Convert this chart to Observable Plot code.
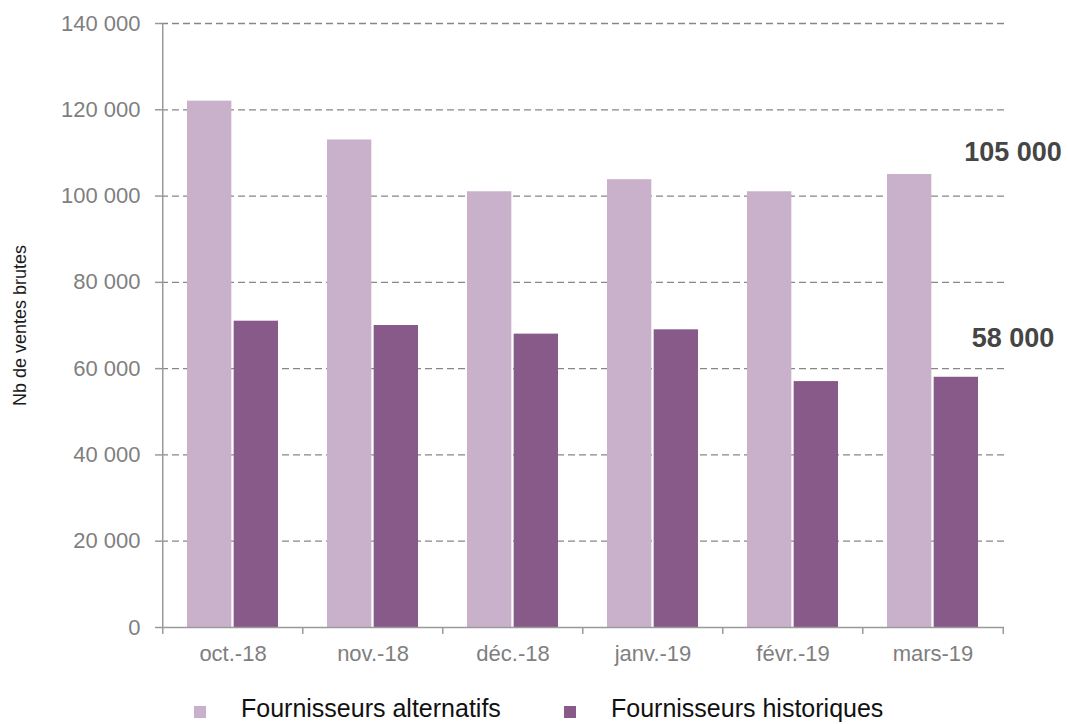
<!DOCTYPE html>
<html>
<head>
<meta charset="utf-8">
<script src="https://cdn.jsdelivr.net/npm/d3@7"></script>
<script src="https://cdn.jsdelivr.net/npm/@observablehq/plot@0.6"></script>
<style>
  body { margin: 0; background: #ffffff; font-family: "Liberation Sans", Arial, sans-serif; }
  #legend { position: relative; height: 44px; }
  .item { position: absolute; top: 14px; display: flex; align-items: center; font-size: 25px; color: #111; line-height: 28px; white-space: nowrap; }
  .sw { width: 12px; height: 12px; margin-top: 7px; }
</style>
</head>
<body>
<div id="chart"></div>
<div id="legend"></div>
<script>
const months = ["oct.-18", "nov.-18", "déc.-18", "janv.-19", "févr.-19", "mars-19"];
const alternatifs = [122000, 113000, 101000, 103800, 101000, 105000];
const historiques = [71000, 70000, 68000, 69000, 57000, 58000];
const seriesNames = ["Fournisseurs alternatifs", "Fournisseurs historiques"];
const seriesColors = ["#c9b1cb", "#885a89"];
const yTicks = [0, 20000, 40000, 60000, 80000, 100000, 120000, 140000];
const yLabel = "Nb de ventes brutes";

const W = 1068, H = 680, mL = 161, mR = 64, mT = 23, mB = 53;
const padInner = 0.35, padOuter = 0.175;
const step = (W - mL - mR) / (months.length - padInner + 2 * padOuter);
const bw = step * (1 - padInner);
const fmt = v => d3.format(",")(v).replace(/,/g, " ");

const data = months.map((m, i) => ({month: m, alt: alternatifs[i], hist: historiques[i]}));
const last = data[data.length - 1];

const chart = Plot.plot({
  width: W, height: H,
  marginLeft: mL, marginRight: mR, marginTop: mT, marginBottom: mB,
  style: {fontFamily: "Liberation Sans, Arial, sans-serif", background: "#ffffff"},
  x: {domain: months, paddingInner: padInner, paddingOuter: padOuter, label: null},
  y: {domain: [0, 140000], label: null},
  marks: [
    Plot.ruleY(yTicks.filter(d => d > 0), {stroke: "#878787", strokeWidth: 1.3, strokeDasharray: "7,4"}),
    Plot.barY(data, {x: "month", y: "alt", fill: seriesColors[0], insetRight: bw / 2 + 1}),
    Plot.barY(data, {x: "month", y: "hist", fill: seriesColors[1], insetLeft: bw / 2 + 1}),
    Plot.ruleY([0], {stroke: "#9a9a9a", strokeWidth: 1.5}),
    Plot.ruleX([months[0]], {y1: 0, y2: 140000, dx: -step / 2, stroke: "#9a9a9a", strokeWidth: 1.5}),
    Plot.axisX({tickSize: 7, tickFormat: () => "", dx: -step / 2, stroke: "#9a9a9a", strokeWidth: 1.5, label: null}),
    Plot.axisX({ticks: [months[months.length - 1]], tickSize: 7, tickFormat: () => "", dx: step / 2, stroke: "#9a9a9a", strokeWidth: 1.5, label: null}),
    Plot.axisX({tickSize: 0, tickPadding: 18, fontSize: 22, color: "#7f7f7f", label: null}),
    Plot.axisY({ticks: yTicks, tickSize: 6, tickPadding: 15, tickFormat: fmt, fontSize: 22, color: "#7f7f7f", stroke: "#9a9a9a", strokeWidth: 1.5, label: null}),
    Plot.text([last], {x: "month", y: "alt", text: d => fmt(d.alt), dx: 80, dy: -22, fontSize: 27, fontWeight: "bold", fill: "#454545"}),
    Plot.text([last], {x: "month", y: "hist", text: d => fmt(d.hist), dx: 80, dy: -39, fontSize: 27, fontWeight: "bold", fill: "#454545"}),
    Plot.text([yLabel], {text: d => d, frameAnchor: "left", textAnchor: "middle", dx: -141, rotate: -90, fontSize: 18, fill: "#1a1a1a"})
  ]
});
document.getElementById("chart").appendChild(chart);

const legend = document.getElementById("legend");
const lefts = [194, 564];
seriesNames.forEach((name, i) => {
  const it = document.createElement("div");
  it.className = "item";
  it.style.left = lefts[i] + "px";
  const sw = document.createElement("span");
  sw.className = "sw";
  sw.style.background = seriesColors[i];
  const tx = document.createElement("span");
  tx.textContent = name;
  tx.style.marginLeft = "35px";
  it.appendChild(sw);
  it.appendChild(tx);
  legend.appendChild(it);
});
</script>
</body>
</html>
